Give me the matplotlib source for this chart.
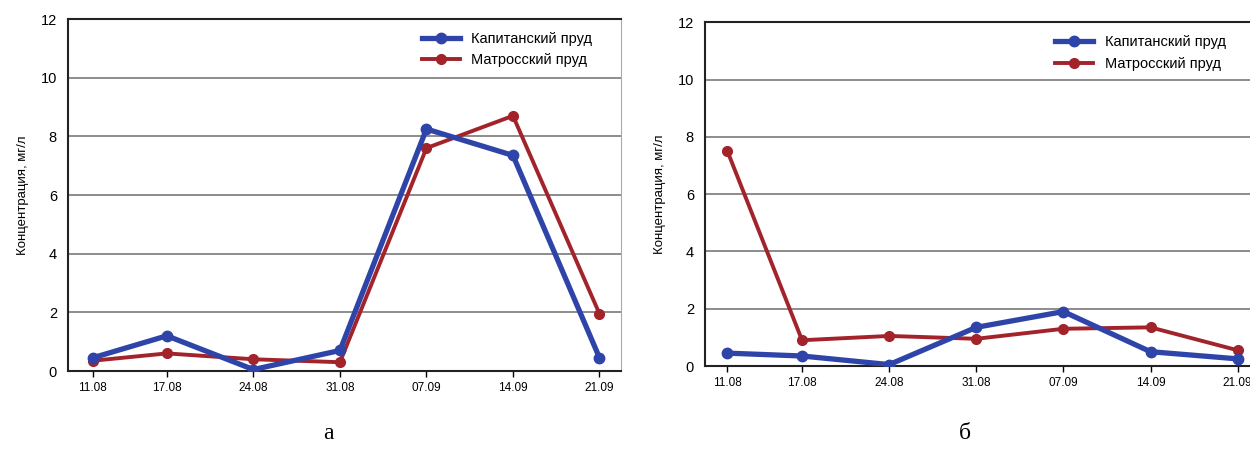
import numpy as np
import matplotlib
matplotlib.use('Agg')
import matplotlib.pyplot as plt

matplotlib.rcParams['font.family'] = ['Liberation Sans', 'DejaVu Sans']

# sampling dates (2 ponds, two panels)
dates = ['2000-08-11', '2000-08-17', '2000-08-24', '2000-08-31',
         '2000-09-07', '2000-09-14', '2000-09-21']
date_labels = ['11.08', '17.08', '24.08', '31.08', '07.09', '14.09', '21.09']

kap_a = [0.45, 1.2, 0.05, 0.7, 8.25, 7.35, 0.45]
mat_a = [0.35, 0.6, 0.4, 0.3, 7.6, 8.7, 1.95]

kap_b = [0.45, 0.35, 0.05, 1.35, 1.9, 0.5, 0.25]
mat_b = [7.5, 0.9, 1.05, 0.95, 1.3, 1.35, 0.55]

days = (np.array(dates, dtype='datetime64[D]') - np.datetime64(dates[0], 'D')).astype(int)

blue = '#2f44a8'
red = '#a3232b'

fig = plt.figure(figsize=(12.5, 4.53), dpi=100)
ax1 = fig.add_axes([0.0544, 0.181, 0.442, 0.777])
ax2 = fig.add_axes([0.564, 0.192, 0.446, 0.759])


def draw(ax, kap, mat, xlim, legend_x):
    ax.plot(days, mat, color=red, lw=2.8, marker='o', ms=7, label='Матросский пруд', zorder=3)
    ax.plot(days, kap, color=blue, lw=3.8, marker='o', ms=7.5, label='Капитанский пруд', zorder=4)
    ax.set_xlim(*xlim)
    ax.set_ylim(0, 12)
    ax.set_yticks(np.arange(0, 13, 2))
    ax.set_xticks(days)
    ax.set_xticklabels(date_labels, fontsize=8.5)
    ax.tick_params(axis='y', length=0, labelsize=10.5, pad=8)
    ax.tick_params(axis='x', length=4, width=1, pad=4)
    ax.grid(axis='y', color='#8c8c8c', lw=1.4)
    ax.set_axisbelow(True)
    for s in ['left', 'bottom', 'top']:
        ax.spines[s].set_color('#222222')
        ax.spines[s].set_linewidth(1.5)
    ax.spines['right'].set_color('#aaaaaa')
    ax.set_ylabel('Концентрация, мг/л', fontsize=9.5, labelpad=8)
    h, l = ax.get_legend_handles_labels()
    ax.legend(h[::-1], l[::-1], loc='upper right', frameon=False, fontsize=10.5,
              handlelength=2.6, borderaxespad=0.5, bbox_to_anchor=(legend_x, 1.0))


draw(ax1, kap_a, mat_a, (-2, 42.7), 0.973)
draw(ax2, kap_b, mat_b, (-1.8, 43.0), 0.958)

fig.text(328 / 1250, 0.044, 'а', ha='center', va='center', fontsize=17, family='Liberation Serif')
fig.text(965 / 1250, 0.044, 'б', ha='center', va='center', fontsize=17, family='Liberation Serif')

fig.savefig('out.png', dpi=100)
